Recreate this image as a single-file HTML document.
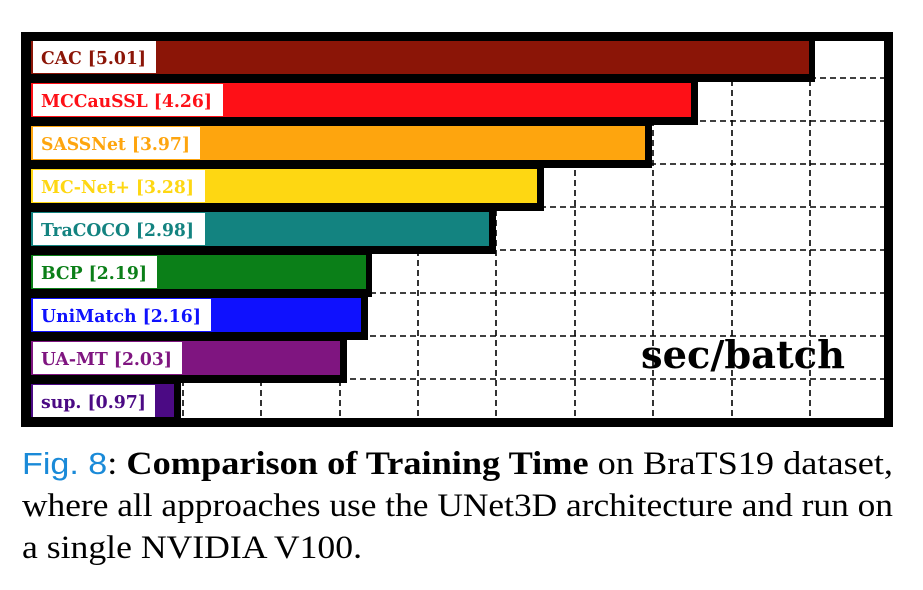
<!DOCTYPE html>
<html><head><meta charset="utf-8"><style>
html,body{margin:0;padding:0;background:#fff;}
svg{display:block;}
</style></head><body>
<svg width="923" height="590" xmlns="http://www.w3.org/2000/svg">
<rect width="923" height="590" fill="#fff"/>
<rect x="25.5" y="36.5" width="863" height="386" fill="#fff" stroke="#000" stroke-width="9"/>
<g stroke="#000" stroke-width="1.6" stroke-dasharray="6,4" fill="none">
<line x1="183" y1="40" x2="183" y2="418"/>
<line x1="261" y1="40" x2="261" y2="418"/>
<line x1="340" y1="40" x2="340" y2="418"/>
<line x1="418" y1="40" x2="418" y2="418"/>
<line x1="496" y1="40" x2="496" y2="418"/>
<line x1="575" y1="40" x2="575" y2="418"/>
<line x1="653" y1="40" x2="653" y2="418"/>
<line x1="732" y1="40" x2="732" y2="418"/>
<line x1="810" y1="40" x2="810" y2="418"/>
<line x1="30" y1="78" x2="884" y2="78"/>
<line x1="30" y1="121" x2="884" y2="121"/>
<line x1="30" y1="164" x2="884" y2="164"/>
<line x1="30" y1="207" x2="884" y2="207"/>
<line x1="30" y1="250" x2="884" y2="250"/>
<line x1="30" y1="293" x2="884" y2="293"/>
<line x1="30" y1="336" x2="884" y2="336"/>
<line x1="30" y1="379" x2="884" y2="379"/>
</g>
<g fill="#000">
<rect x="26" y="34" width="789" height="48"/>
<rect x="26" y="77" width="672" height="48"/>
<rect x="26" y="120" width="626" height="48"/>
<rect x="26" y="163" width="518" height="48"/>
<rect x="26" y="206" width="470" height="48"/>
<rect x="26" y="249" width="346" height="48"/>
<rect x="26" y="292" width="342" height="48"/>
<rect x="26" y="335" width="321" height="48"/>
<rect x="26" y="378" width="155" height="48"/>
</g>
<rect x="31" y="41" width="778" height="33" fill="#8b1507"/>
<rect x="31" y="83" width="660" height="34" fill="#fe1017"/>
<rect x="31" y="126" width="614" height="34" fill="#fea50e"/>
<rect x="31" y="169" width="506" height="34" fill="#fed712"/>
<rect x="31" y="212" width="458" height="34" fill="#138380"/>
<rect x="31" y="255" width="335" height="34" fill="#0b7f18"/>
<rect x="31" y="298" width="330" height="34" fill="#0f11fe"/>
<rect x="31" y="341" width="309" height="34" fill="#7f1580"/>
<rect x="31" y="384" width="143" height="33" fill="#4b0a84"/>
<g fill="#fff">
<rect x="33" y="41" width="123" height="32"/>
<rect x="33" y="84" width="190" height="32"/>
<rect x="33" y="127" width="167" height="32"/>
<rect x="33" y="170" width="172" height="32"/>
<rect x="33" y="213" width="172" height="32"/>
<rect x="33" y="256" width="124" height="32"/>
<rect x="33" y="299" width="178" height="32"/>
<rect x="33" y="342" width="149" height="32"/>
<rect x="33" y="385" width="122" height="32"/>
</g>
<g font-family="'DejaVu Serif','Liberation Serif',serif" font-weight="bold" font-size="18" lengthAdjust="spacingAndGlyphs">
<text x="41" y="64" fill="#8b1507" textLength="105" lengthAdjust="spacingAndGlyphs">CAC [5.01]</text>
<text x="41" y="107" fill="#fe1017" textLength="171" lengthAdjust="spacingAndGlyphs">MCCauSSL [4.26]</text>
<text x="41" y="150" fill="#fea50e" textLength="149" lengthAdjust="spacingAndGlyphs">SASSNet [3.97]</text>
<text x="41" y="193" fill="#fed712" textLength="153" lengthAdjust="spacingAndGlyphs">MC-Net+ [3.28]</text>
<text x="41" y="236" fill="#138380" textLength="153" lengthAdjust="spacingAndGlyphs">TraCOCO [2.98]</text>
<text x="41" y="279" fill="#0b7f18" textLength="106" lengthAdjust="spacingAndGlyphs">BCP [2.19]</text>
<text x="41" y="322" fill="#0f11fe" textLength="160" lengthAdjust="spacingAndGlyphs">UniMatch [2.16]</text>
<text x="41" y="365" fill="#7f1580" textLength="131" lengthAdjust="spacingAndGlyphs">UA-MT [2.03]</text>
<text x="41" y="408" fill="#4b0a84" textLength="105" lengthAdjust="spacingAndGlyphs">sup. [0.97]</text>
</g>
<text x="641" y="368" font-family="'DejaVu Serif','Liberation Serif',serif" font-weight="bold" font-size="38" textLength="204" lengthAdjust="spacingAndGlyphs">sec/batch</text>
<g font-family="'Liberation Serif',serif" font-size="33">
<text x="22" y="474" textLength="871" lengthAdjust="spacingAndGlyphs"><tspan font-family="'Liberation Sans',sans-serif" fill="#1a8ad8" font-size="31">Fig. 8</tspan>: <tspan font-weight="bold">Comparison of Training Time</tspan> on BraTS19 dataset,</text>
<text x="22" y="516" textLength="871" lengthAdjust="spacingAndGlyphs">where all approaches use the UNet3D architecture and run on</text>
<text x="22" y="558" textLength="340" lengthAdjust="spacingAndGlyphs">a single NVIDIA V100.</text>
</g>
</svg>
</body></html>
